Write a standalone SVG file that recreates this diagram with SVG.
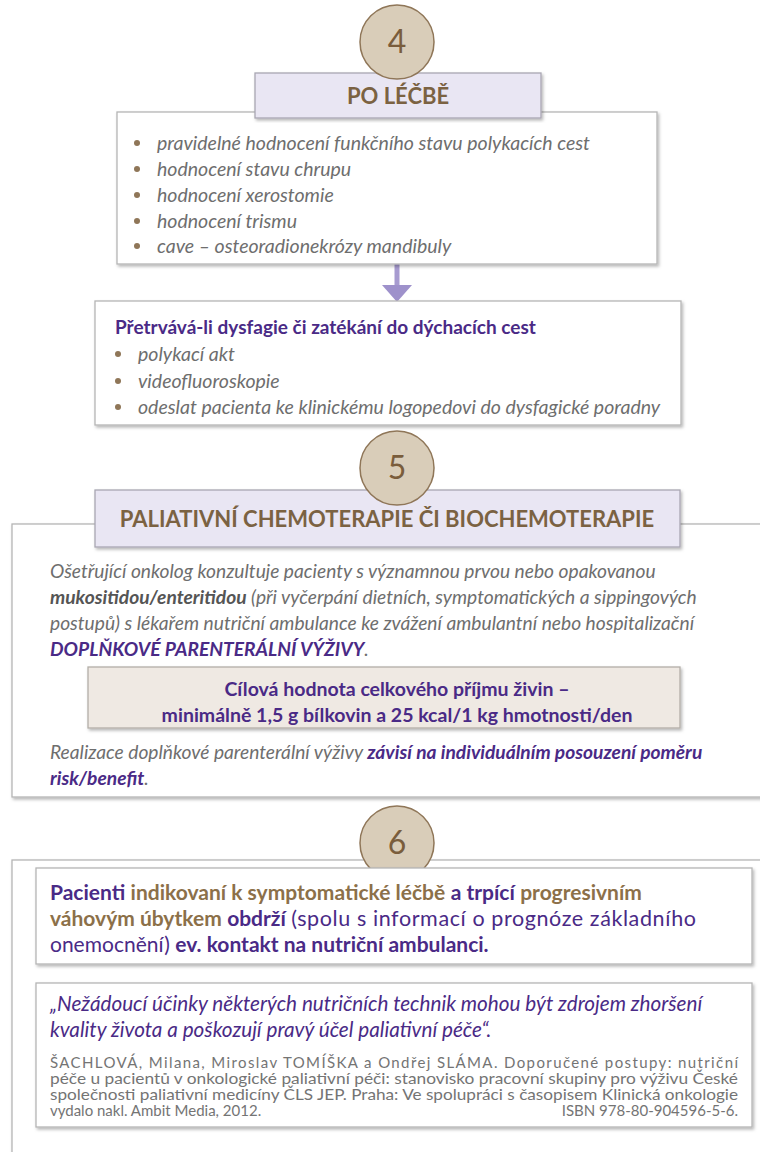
<svg xmlns="http://www.w3.org/2000/svg" width="760" height="1152" viewBox="0 0 760 1152">
<defs>
<filter id="sh" x="-5%" y="-5%" width="110%" height="115%">
<feDropShadow dx="1.5" dy="2" stdDeviation="1.5" flood-color="#000" flood-opacity="0.28"/>
</filter>
<style>
.box{fill:#fff;stroke:#b5b5b5;stroke-width:1.3}
.hdr{fill:#e9e6f3;stroke:#a9a7b2;stroke-width:1.3}
.beige{fill:#efe9e3;stroke:#b3aea8;stroke-width:1.3}
.circ{fill:#d9cdb9;stroke:#8f7658;stroke-width:1.5}
.num{font-family:Lato,"Noto Sans",sans-serif;font-size:32px;fill:#7a5d3c;text-anchor:middle}
.htxt{font-family:Lato,"Noto Sans",sans-serif;font-weight:bold;font-size:22px;fill:#7b6242;text-anchor:middle}
.it{font-family:Lato,"Noto Sans",sans-serif;font-style:italic;font-size:19.5px;fill:#6e6e6e}
.pit{font-family:Lato,"Noto Sans",sans-serif;font-style:italic;font-size:19.2px;fill:#6e6e6e}
.pb{font-family:Lato,"Noto Sans",sans-serif;font-weight:bold;fill:#4a2a86}
.dot{fill:#8f7658}
.s6{font-family:Lato,"Noto Sans",sans-serif;font-size:21px;fill:#4a2a86}
.b{font-weight:bold}
.tan{fill:#8c7049}
.q{font-family:Lato,"Noto Sans",sans-serif;font-style:italic;font-size:20.7px;fill:#4a2a86}
.cit{font-family:Lato,"Noto Sans",sans-serif;font-size:15px;fill:#747474}
</style>
</defs>

<g id="connectors">
<line x1="397" y1="264" x2="397" y2="286" stroke="#a79bd0" stroke-width="5"/>
<polygon points="382,285 412,285 397,302" fill="#9e91cb"/>
</g>

<g id="section4">
<rect class="box" x="117" y="112" width="540" height="152" filter="url(#sh)"/>
<rect class="hdr" x="255" y="73" width="286" height="45" filter="url(#sh)"/>
<text class="htxt" x="398" y="104">PO LÉČBĚ</text>
<circle class="circ" cx="397" cy="42" r="37"/>
<text class="num" x="397" y="53">4</text>
<g id="list4">
<circle class="dot" cx="137" cy="143" r="3"/>
<text class="it" x="157" y="150">pravidelné hodnocení funkčního stavu polykacích cest</text>
<circle class="dot" cx="137" cy="169" r="3"/>
<text class="it" x="157" y="176">hodnocení stavu chrupu</text>
<circle class="dot" cx="137" cy="195" r="3"/>
<text class="it" x="157" y="202">hodnocení xerostomie</text>
<circle class="dot" cx="137" cy="221" r="3"/>
<text class="it" x="157" y="228">hodnocení trismu</text>
<circle class="dot" cx="137" cy="246" r="3"/>
<text class="it" x="157" y="253">cave – osteoradionekrózy mandibuly</text>
</g>
</g>

<g id="dysphagia">
<rect class="box" x="95" y="301" width="586" height="124" filter="url(#sh)"/>
<text class="pb" x="115" y="334" font-size="19">Přetrvává-li dysfagie či zatékání do dýchacích cest</text>
<circle class="dot" cx="118" cy="354" r="3"/>
<text class="it" x="138" y="361">polykací akt</text>
<circle class="dot" cx="118" cy="381" r="3"/>
<text class="it" x="138" y="388">videofluoroskopie</text>
<circle class="dot" cx="118" cy="407" r="3"/>
<text class="it" x="138" y="414">odeslat pacienta ke klinickému logopedovi do dysfagické poradny</text>
</g>

<g id="section5">
<rect class="box" x="12" y="524" width="800" height="273" filter="url(#sh)"/>
<rect class="hdr" x="95" y="490" width="585" height="57" filter="url(#sh)"/>
<text class="htxt" x="387" y="527">PALIATIVNÍ CHEMOTERAPIE ČI BIOCHEMOTERAPIE</text>
<circle class="circ" cx="397" cy="468" r="37"/>
<text class="num" x="397" y="479">5</text>
<text class="pit" x="50" y="578">Ošetřující onkolog konzultuje pacienty s významnou prvou nebo opakovanou</text>
<text class="pit" x="50" y="604"><tspan font-weight="bold" fill="#555">mukositidou/enteritidou</tspan> (při vyčerpání dietních, symptomatických a sippingových</text>
<text class="pit" x="50" y="630">postupů) s lékařem nutriční ambulance ke zvážení ambulantní nebo hospitalizační</text>
<text class="pit" x="50" y="656"><tspan font-weight="bold" fill="#4a2a86">DOPLŇKOVÉ PARENTERÁLNÍ VÝŽIVY</tspan>.</text>
<rect class="beige" x="88" y="667" width="592" height="61" filter="url(#sh)"/>
<text class="pb" x="397" y="696" font-size="19.5" text-anchor="middle">Cílová hodnota celkového příjmu živin –</text>
<text class="pb" x="397" y="722" font-size="19.5" text-anchor="middle">minimálně 1,5 g bílkovin a 25 kcal/1 kg hmotnosti/den</text>
<text class="pit" x="50" y="759">Realizace doplňkové parenterální výživy <tspan font-weight="bold" fill="#4a2a86">závisí na individuálním posouzení poměru</tspan></text>
<text class="pit" x="50" y="785"><tspan font-weight="bold" fill="#4a2a86">risk/benefit</tspan>.</text>
</g>

<g id="section6">
<rect class="box" x="12" y="860" width="800" height="320" filter="url(#sh)"/>
<circle class="circ" cx="397" cy="843" r="37"/>
<text class="num" x="397" y="854">6</text>
<g id="note6">
<rect class="box" x="36" y="868" width="716" height="96" filter="url(#sh)"/>
<text class="s6" x="50" y="900"><tspan class="b">Pacienti</tspan> <tspan class="b tan">indikovaní k symptomatické léčbě</tspan> <tspan class="b">a trpící</tspan> <tspan class="b tan">progresivním</tspan></text>
<text class="s6" x="50" y="926"><tspan class="b tan">váhovým úbytkem</tspan> <tspan class="b">obdrží</tspan> <tspan font-size="21.5" letter-spacing="0.6">(spolu s informací o prognóze základního</tspan></text>
<text class="s6" x="50" y="952">onemocnění) <tspan class="b">ev. kontakt na nutriční ambulanci.</tspan></text>
</g>
<g id="quote">
<rect class="box" x="36" y="983" width="716" height="144" filter="url(#sh)"/>
<text class="q" x="50" y="1011">„Nežádoucí účinky některých nutričních technik mohou být zdrojem zhoršení</text>
<text class="q" x="50" y="1037">kvality života a poškozují pravý účel paliativní péče“.</text>
<text class="cit" x="50" y="1068" textLength="688" lengthAdjust="spacing">ŠACHLOVÁ, Milana, Miroslav TOMÍŠKA a Ondřej SLÁMA. Doporučené postupy: nutriční</text>
<text class="cit" x="50" y="1084" textLength="688" lengthAdjust="spacingAndGlyphs">péče u pacientů v onkologické paliativní péči: stanovisko pracovní skupiny pro výživu České</text>
<text class="cit" x="50" y="1100" textLength="688" lengthAdjust="spacingAndGlyphs">společnosti paliativní medicíny ČLS JEP. Praha: Ve spolupráci s časopisem Klinická onkologie</text>
<text class="cit" x="50" y="1116">vydalo nakl. Ambit Media, 2012.</text>
<text class="cit" x="738" y="1116" text-anchor="end">ISBN 978-80-904596-5-6.</text>
</g>
</g>
</svg>
